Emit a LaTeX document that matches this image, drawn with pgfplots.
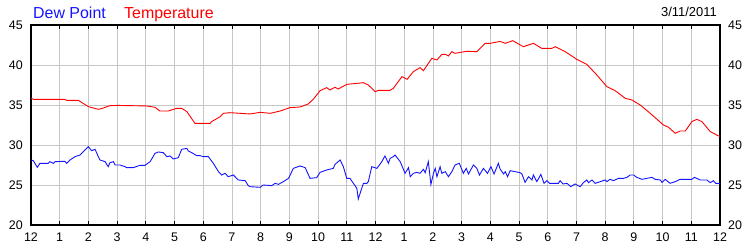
\documentclass[border=0pt]{standalone}
\usepackage{pgfplots}
\pgfplotsset{compat=1.18}
\usepackage{pgfplotstable}
\usepackage{fontspec}
\setmainfont{Liberation Sans}
\definecolor{dewblue}{RGB}{20,20,255}
\definecolor{tempred}{RGB}{255,0,0}

\pgfplotstableread{
h T
0 35.83
0.1 35.71
1.18 35.71
1.24 35.58
1.65 35.58
2.0 34.79
2.2 34.6
2.35 34.46
2.5 34.6
2.75 34.92
3.0 34.95
4.03 34.88
4.32 34.71
4.49 34.25
4.78 34.25
5.07 34.58
5.25 34.58
5.43 34.17
5.71 32.71
6.24 32.71
6.29 32.92
6.59 33.54
6.7 33.96
6.93 34.04
7.63 33.88
7.98 34.08
8.33 33.96
8.68 34.25
9.02 34.67
9.37 34.75
9.66 35.13
9.84 35.75
10.07 36.79
10.3 37.17
10.41 36.88
10.59 37.21
10.7 37.0
11.0 37.58
11.58 37.79
11.75 37.5
11.99 36.67
12.1 36.83
12.5 36.83
12.62 37.08
12.92 38.54
13.1 38.21
13.32 39.17
13.55 39.67
13.67 39.29
13.96 40.83
14.14 40.63
14.31 41.33
14.43 41.33
14.54 41.13
14.66 41.67
14.77 41.46
15.17 41.71
15.53 41.67
15.82 42.71
16.0 42.71
16.34 42.95
16.52 42.71
16.78 43.04
17.15 42.29
17.5 42.71
17.79 42.08
18.14 42.08
18.26 42.29
18.61 41.67
19.01 40.71
19.36 40.08
19.71 38.75
20.06 37.29
20.35 36.79
20.7 35.83
20.93 35.63
21.22 35.0
21.57 33.96
22.03 32.5
22.21 32.21
22.44 31.46
22.61 31.75
22.79 31.75
23.02 32.92
23.19 33.21
23.37 32.92
23.66 31.67
23.95 31.13
24.0 31.1
}\temptable

\pgfplotstableread{
h D
0 28.13
0.08 28.04
0.22 27.21
0.31 27.71
0.43 27.71
0.60 27.71
0.66 27.92
0.78 27.71
0.84 27.92
1.18 27.96
1.24 27.71
1.36 28.13
1.53 28.54
1.71 28.75
2.0 29.79
2.11 29.29
2.23 29.46
2.40 28.13
2.58 27.92
2.69 27.29
2.75 27.79
2.87 27.92
2.93 27.5
3.10 27.5
3.28 27.29
3.33 27.17
3.56 27.17
3.80 27.46
3.97 27.46
4.15 27.92
4.32 28.96
4.44 29.13
4.61 29.04
4.73 28.54
4.84 28.63
4.96 28.25
5.13 28.42
5.25 29.46
5.43 29.58
5.48 29.25
5.60 29.04
5.77 28.67
5.89 28.67
6.0 28.54
6.18 28.54
6.35 27.71
6.53 26.67
6.64 26.25
6.76 26.46
6.87 26.04
7.05 26.25
7.22 25.63
7.46 25.54
7.57 24.92
7.63 24.79
7.98 24.71
8.09 25.0
8.39 24.92
8.50 25.21
8.62 25.08
8.79 25.42
8.97 25.83
9.14 27.08
9.37 27.38
9.55 27.17
9.72 25.83
9.95 25.92
10.07 26.58
10.30 26.88
10.53 27.08
10.59 27.58
10.77 28.13
10.88 27.29
11.0 25.83
11.11 25.83
11.23 25.21
11.35 24.58
11.40 23.25
11.52 24.58
11.58 25.21
11.70 25.21
11.75 25.42
11.87 27.29
12.05 27.08
12.22 27.92
12.33 28.63
12.45 27.71
12.51 28.33
12.62 28.54
12.68 28.75
12.86 27.92
13.03 26.46
13.15 27.17
13.21 26.04
13.32 26.46
13.44 26.58
13.55 26.46
13.67 26.96
13.73 26.54
13.84 27.92
13.93 25.08
14.02 26.46
14.08 27.08
14.14 26.04
14.25 27.29
14.31 26.46
14.43 26.67
14.54 26.04
14.66 26.67
14.77 27.5
14.92 27.71
15.06 26.46
15.16 27.08
15.24 26.38
15.41 27.5
15.53 27.08
15.62 26.25
15.76 27.08
15.90 26.46
16.02 27.29
16.13 26.38
16.28 27.71
16.34 27.0
16.46 26.38
16.52 26.67
16.60 26.04
16.69 26.79
16.86 26.67
17.04 26.54
17.10 26.38
17.21 25.33
17.33 26.04
17.45 25.63
17.50 26.25
17.62 25.42
17.76 26.33
17.87 25.21
17.97 25.54
18.06 25.21
18.20 25.21
18.37 25.21
18.43 25.54
18.53 25.13
18.67 25.21
18.80 24.79
18.95 25.13
19.13 24.79
19.24 25.29
19.36 25.63
19.42 25.29
19.54 25.63
19.65 25.21
19.83 25.42
20.0 25.63
20.06 25.42
20.17 25.71
20.29 25.54
20.46 25.83
20.64 25.83
20.76 25.96
20.87 26.25
20.99 26.25
21.10 25.96
21.28 25.71
21.45 25.83
21.63 25.96
21.74 25.71
21.92 25.63
21.98 25.33
22.09 25.71
22.26 25.21
22.44 25.42
22.61 25.71
22.85 25.71
23.02 25.71
23.11 25.96
23.31 25.63
23.54 25.63
23.66 25.29
23.77 25.54
23.85 25.21
24.0 25.21
}\dewtable

\begin{document}
\begin{tikzpicture}
\useasboundingbox (-31bp,-25bp) rectangle (719bp,225bp);
\begin{axis}[
  scale only axis, width=689bp, height=200bp,
  at={(0,0)}, anchor=south west,
  xmin=0, xmax=24, ymin=20, ymax=45,
  xtick={0,1,...,24},
  xticklabels={12,1,2,3,4,5,6,7,8,9,10,11,12,1,2,3,4,5,6,7,8,9,10,11,12},
  ytick={20,25,30,35,40,45},
  yticklabel pos=left,
  grid=major,
  major grid style={draw=black!22, line width=0.8bp},
  axis line style={line width=1.2bp, black},
  tick align=inside,
  major tick length=4bp,
  xtick style={line width=0.8bp, black},
  ytick style={draw=none},
  /pgf/number format/assume math mode=true,
  tick label style={font=\fontsize{12.5}{13}\selectfont},
  yticklabel style={inner sep=0pt, xshift=-8bp},
  xticklabel style={inner sep=0pt, yshift=-8bp},
  clip=true,
]
\addplot[tempred, line width=0.9bp] table[x=h, y=T] {\temptable};
\addplot[dewblue, line width=0.9bp] table[x=h, y=D] {\dewtable};
\end{axis}
\begin{axis}[
  scale only axis, width=689bp, height=200bp,
  at={(0,0)}, anchor=south west,
  xmin=0, xmax=24, ymin=20, ymax=45,
  hide x axis,
  axis line style={draw=none},
  ytick={20,25,30,35,40,45},
  ytick style={draw=none},
  yticklabel pos=right,
  /pgf/number format/assume math mode=true,
  tick label style={font=\fontsize{12.5}{13}\selectfont},
  yticklabel style={inner sep=0pt, xshift=8bp},
]
\end{axis}
\node[anchor=base west, inner sep=0pt, text=dewblue, font=\fontsize{16}{17}\selectfont] at (2bp,206.7bp) {Dew Point};
\node[anchor=base west, inner sep=0pt, text=tempred, font=\fontsize{16}{17}\selectfont] at (93bp,206.7bp) {Temperature};
\node[anchor=base east, inner sep=0pt, font=\fontsize{13}{14}\selectfont] at (686bp,208.3bp) {3/11/2011};
\end{tikzpicture}
\end{document}
